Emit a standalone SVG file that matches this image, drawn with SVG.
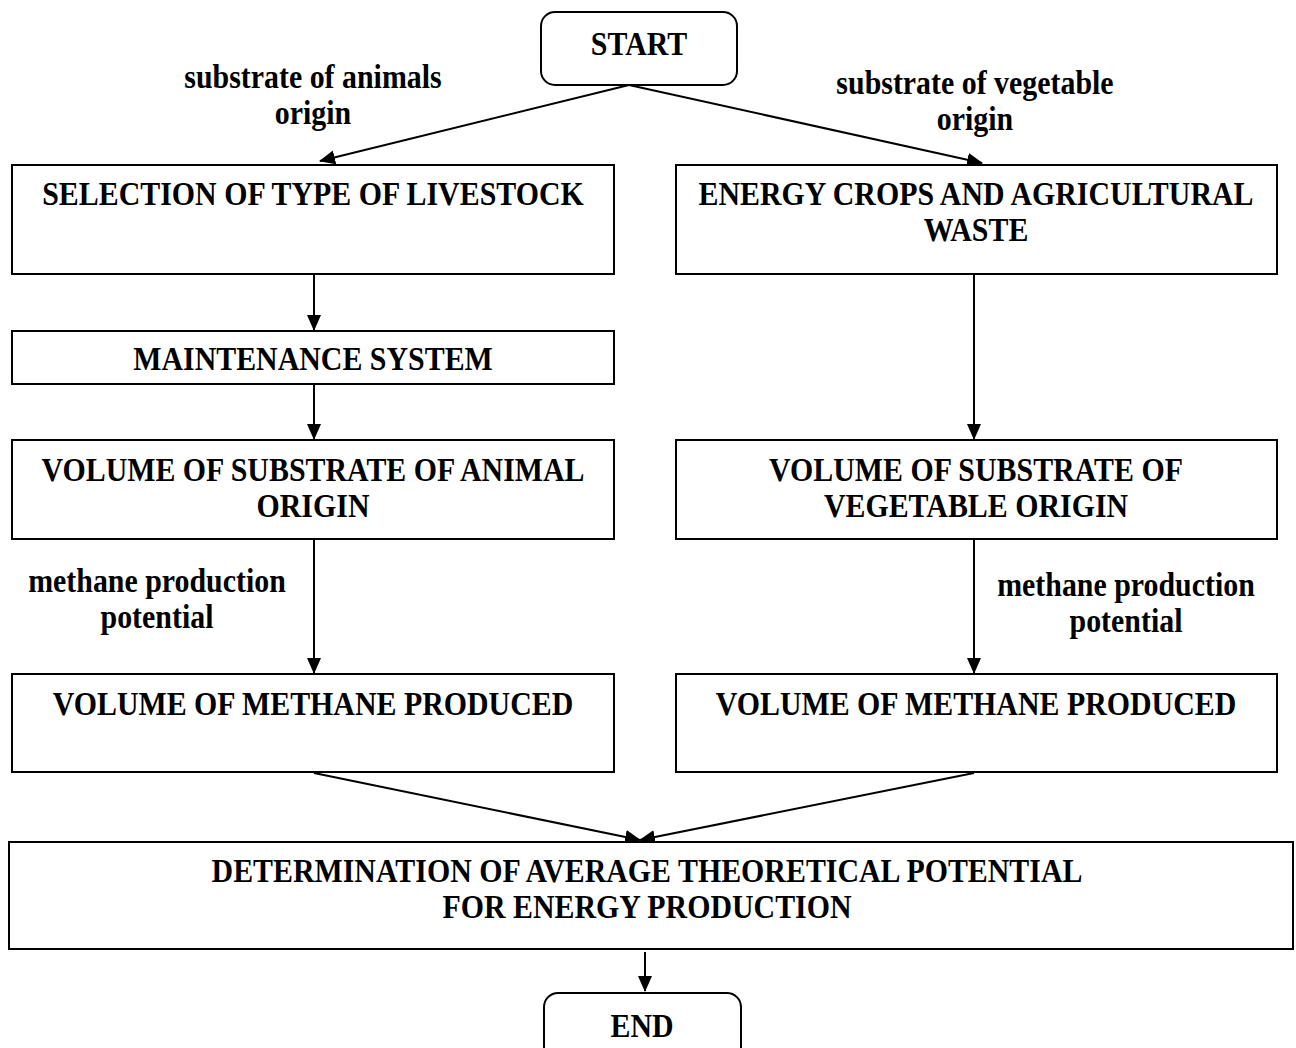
<svg xmlns="http://www.w3.org/2000/svg" width="1296" height="1048" viewBox="0 0 1296 1048">
<style>
.box{fill:#fff;stroke:#000;stroke-width:2}
.t{font-family:"Liberation Serif","Times New Roman",serif;font-weight:bold;font-size:29.9px;text-anchor:middle;fill:#000}
.c{stroke:#000;stroke-width:2;fill:none}
</style>
<defs>
<marker id="ab" markerWidth="16" markerHeight="16" refX="15" refY="8" orient="auto" markerUnits="userSpaceOnUse" viewBox="0 0 16 16">
<path d="M0,1 L16,8 L0,15 z" fill="#000"/>
</marker>
</defs>
<rect width="1296" height="1048" fill="#fff"/>
<g id="connectors">
<path class="c" d="M629,85 L320,161" marker-end="url(#ab)"/>
<path class="c" d="M629,85 L982,163" marker-end="url(#ab)"/>
<path class="c" d="M314,275 L314,330" marker-end="url(#ab)"/>
<path class="c" d="M314,385 L314,439" marker-end="url(#ab)"/>
<path class="c" d="M314,540 L314,673" marker-end="url(#ab)"/>
<path class="c" d="M974,275 L974,439" marker-end="url(#ab)"/>
<path class="c" d="M974,540 L974,673" marker-end="url(#ab)"/>
<path class="c" d="M314,773 L640,840" marker-end="url(#ab)"/>
<path class="c" d="M974,773 L640,840" marker-end="url(#ab)"/>
<path class="c" d="M645,952 L645,991" marker-end="url(#ab)"/>
</g>
<g id="start"><rect class="box" x="541" y="12" width="196" height="73" rx="14"/><text class="t" transform="translate(639,55) scale(1,1.11)">START</text></g>
<g id="lbl-animal"><text class="t" transform="translate(313,88) scale(1,1.11)">substrate of animals</text><text class="t" transform="translate(313,124) scale(1,1.11)">origin</text></g>
<g id="lbl-veg"><text class="t" transform="translate(975,94) scale(1,1.11)">substrate of vegetable</text><text class="t" transform="translate(975,130) scale(1,1.11)">origin</text></g>
<g id="livestock"><rect class="box" x="12" y="165" width="602" height="109"/><text class="t" transform="translate(313,205) scale(1,1.11)">SELECTION OF TYPE OF LIVESTOCK</text></g>
<g id="crops"><rect class="box" x="676" y="165" width="601" height="109"/><text class="t" transform="translate(976,205) scale(1,1.11)">ENERGY CROPS AND AGRICULTURAL</text><text class="t" transform="translate(976,241) scale(1,1.11)">WASTE</text></g>
<g id="maintenance"><rect class="box" x="12" y="331" width="602" height="53"/><text class="t" transform="translate(313,370) scale(1,1.11)">MAINTENANCE SYSTEM</text></g>
<g id="vol-animal"><rect class="box" x="12" y="440" width="602" height="99"/><text class="t" transform="translate(313,481) scale(1,1.11)">VOLUME OF SUBSTRATE OF ANIMAL</text><text class="t" transform="translate(313,517) scale(1,1.11)">ORIGIN</text></g>
<g id="vol-veg"><rect class="box" x="676" y="440" width="601" height="99"/><text class="t" transform="translate(976,481) scale(1,1.11)">VOLUME OF SUBSTRATE OF</text><text class="t" transform="translate(976,517) scale(1,1.11)">VEGETABLE ORIGIN</text></g>
<g id="lbl-methane-l"><text class="t" transform="translate(157,592) scale(1,1.11)">methane production</text><text class="t" transform="translate(157,628) scale(1,1.11)">potential</text></g>
<g id="lbl-methane-r"><text class="t" transform="translate(1126,596) scale(1,1.11)">methane production</text><text class="t" transform="translate(1126,632) scale(1,1.11)">potential</text></g>
<g id="methane-l"><rect class="box" x="12" y="674" width="602" height="98"/><text class="t" transform="translate(313,715) scale(1,1.11)">VOLUME OF METHANE PRODUCED</text></g>
<g id="methane-r"><rect class="box" x="676" y="674" width="601" height="98"/><text class="t" transform="translate(976,715) scale(1,1.11)">VOLUME OF METHANE PRODUCED</text></g>
<g id="determination"><rect class="box" x="9" y="842" width="1284" height="107"/><text class="t" transform="translate(647,882) scale(1,1.11)">DETERMINATION OF AVERAGE THEORETICAL POTENTIAL</text><text class="t" transform="translate(647,918) scale(1,1.11)">FOR ENERGY PRODUCTION</text></g>
<g id="end"><rect class="box" x="544" y="993" width="197" height="70" rx="14"/><text class="t" transform="translate(642,1037) scale(1,1.11)">END</text></g>
</svg>
